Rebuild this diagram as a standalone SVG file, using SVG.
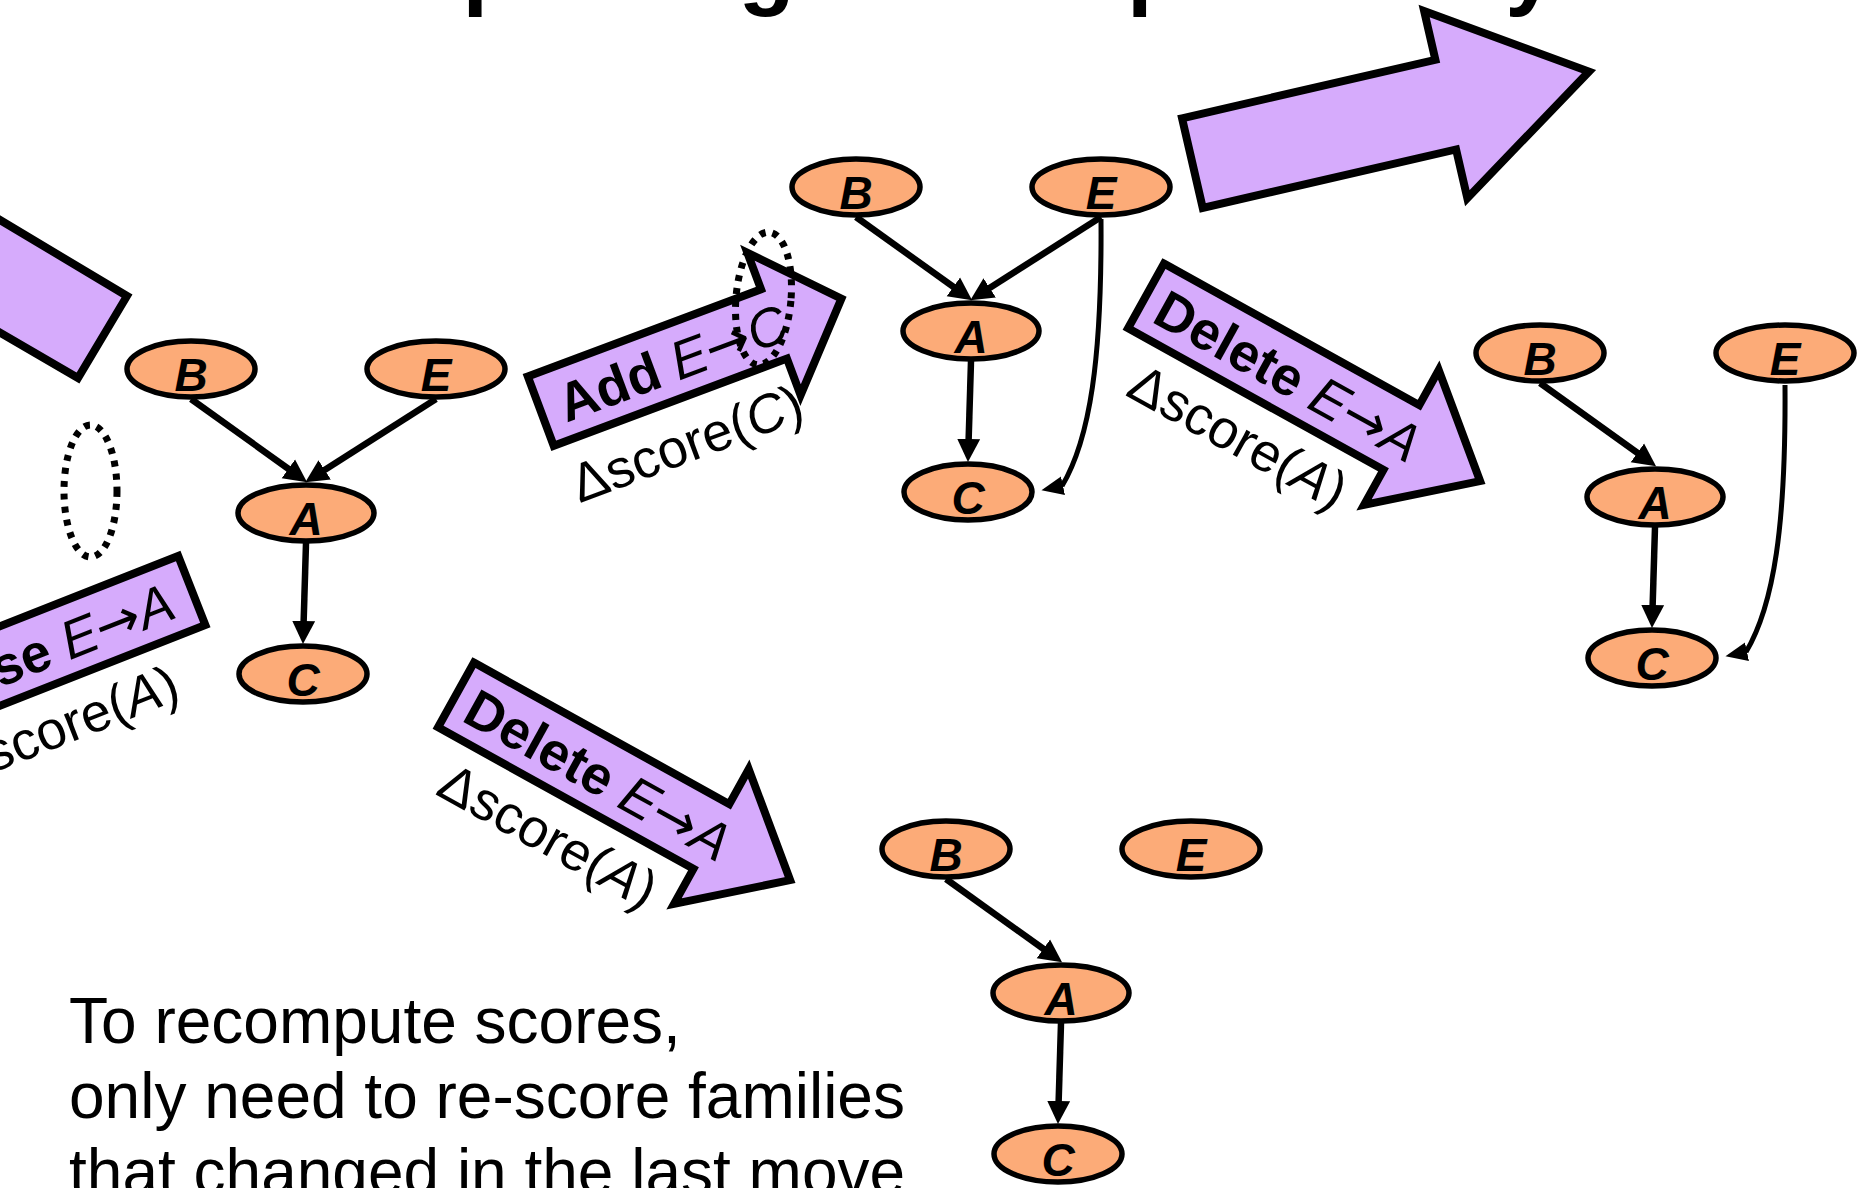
<svg xmlns="http://www.w3.org/2000/svg" width="1872" height="1188" viewBox="0 0 1872 1188">
<style>
.node ellipse { fill:#FCAB78; stroke:#000; stroke-width:5.5; }
.node text { font-family:"Liberation Sans", Arial, sans-serif; font-weight:bold; font-style:italic; font-size:46px; text-anchor:middle; fill:#000; }
.edge { stroke:#000; stroke-width:6.5; fill:none; marker-end:url(#ah); }
.curve { stroke:#000; stroke-width:5; fill:none; marker-end:url(#ahc); }
.move { fill:#D6ABFC; stroke:#000; stroke-width:8; stroke-linejoin:miter; stroke-miterlimit:10; }
.lbl { font-family:"Liberation Sans", Arial, sans-serif; font-size:54px; fill:#000; }
.b { font-weight:bold; }
.i { font-style:italic; }
.arr { font-family:"DejaVu Sans", sans-serif; font-style:normal; font-weight:normal; }
.dots { fill:none; stroke:#000; stroke-width:7; stroke-dasharray:6 7; }
.title { font-family:"Liberation Sans", Arial, sans-serif; font-weight:bold; font-size:92px; fill:#000; }
.body { font-family:"Liberation Sans", Arial, sans-serif; font-size:64px; fill:#000; }
</style>
<defs>
<marker id="ah" markerUnits="userSpaceOnUse" markerWidth="26" markerHeight="26" viewBox="0 -13 26 26" refX="2" refY="0" orient="auto"><path d="M0,-11.5 L23,0 L0,11.5 z" fill="#000"/></marker>
<marker id="ahc" markerUnits="userSpaceOnUse" markerWidth="24" markerHeight="22" viewBox="0 -11 24 22" refX="1" refY="0" orient="168"><path d="M0,-9.5 L22,0 L0,9.5 z" fill="#000"/></marker>
</defs>

<text class="title" x="350" y="-2">Exploiting Decomposability</text>

<g id="moves">
  <g id="move-topleft"><polygon class="move" points="-20,208 127,296 78,378 -20,321"/></g>
  <g id="move-reverse" transform="translate(195.5,589) rotate(-21.5)">
    <polygon class="move" points="-500,-37 -4,-37 -4,37 -500,37"/>
    <text class="lbl" text-anchor="end" x="-26" y="20"><tspan class="b">Reverse</tspan><tspan class="i"> E</tspan><tspan class="arr">→</tspan><tspan class="i">A</tspan></text>
    <text class="lbl" text-anchor="end" x="-52" y="97">Δscore(<tspan class="i">A</tspan>)</text>
  </g>
  <g id="move-add" transform="translate(537,412.5) rotate(-20.5)">
    <polygon class="move" points="4,-37 253,-37 253,-76 325,0 253,76 253,37 4,37"/>
    <text class="lbl" x="24" y="20"><tspan class="b">Add</tspan><tspan class="i"> E</tspan><tspan class="arr">→</tspan><tspan class="i">C</tspan></text>
    <text class="lbl" x="8" y="100">Δscore(<tspan class="i">C</tspan>)</text>
  </g>
  <g id="move-delete-top" transform="translate(1142.5,294) rotate(29)">
    <polygon class="move" points="4,-37 296,-37 296,-77 386,0 296,77 296,37 4,37"/>
    <text class="lbl" x="20" y="20"><tspan class="b">Delete</tspan><tspan class="i"> E</tspan><tspan class="arr">→</tspan><tspan class="i">A</tspan></text>
    <text class="lbl" x="33" y="97">Δscore(<tspan class="i">A</tspan>)</text>
  </g>
  <g id="move-delete-bottom" transform="translate(452.5,693) rotate(29)">
    <polygon class="move" points="4,-37 296,-37 296,-77 386,0 296,77 296,37 4,37"/>
    <text class="lbl" x="20" y="20"><tspan class="b">Delete</tspan><tspan class="i"> E</tspan><tspan class="arr">→</tspan><tspan class="i">A</tspan></text>
    <text class="lbl" x="33" y="97">Δscore(<tspan class="i">A</tspan>)</text>
  </g>
  <g id="move-big" transform="translate(1188.5,164) rotate(-13)">
    <polygon class="move" points="4,-46 264,-46 264,-96 411,0 264,96 264,46 4,46"/>
  </g>
</g>

<g id="connectors">
  <g transform="translate(191,369)">
    <path class="edge" d="M0,30 L99,101"/>
    <path class="edge" d="M245,30 L132,102"/>
    <path class="edge" d="M115,174 L112.6,254"/>
  </g>
  <g transform="translate(856,187)">
    <path class="edge" d="M0,30 L99,101"/>
    <path class="edge" d="M245,30 L132,102"/>
    <path class="edge" d="M115,174 L112.6,254"/>
    <path class="curve" d="M245,32 C246,172 234,252 206,299"/>
  </g>
  <g transform="translate(1540,353)">
    <path class="edge" d="M0,30 L99,101"/>
    <path class="edge" d="M115,174 L112.6,254"/>
    <path class="curve" d="M245,32 C246,172 234,252 206,299"/>
  </g>
  <g transform="translate(946,849)">
    <path class="edge" d="M0,30 L99,101"/>
    <path class="edge" d="M115,174 L112.6,254"/>
  </g>
</g>

<g id="n1B" class="node"><ellipse cx="191" cy="369" rx="64" ry="28"/><text x="191" y="391">B</text></g>
<g id="n1E" class="node"><ellipse cx="436" cy="369" rx="69" ry="28"/><text x="436" y="391">E</text></g>
<g id="n1A" class="node"><ellipse cx="306" cy="513" rx="68" ry="28"/><text x="306" y="535">A</text></g>
<g id="n1C" class="node"><ellipse cx="303" cy="674" rx="64" ry="28"/><text x="303" y="696">C</text></g>

<g id="n2B" class="node"><ellipse cx="856" cy="187" rx="64" ry="28"/><text x="856" y="209">B</text></g>
<g id="n2E" class="node"><ellipse cx="1101" cy="187" rx="69" ry="28"/><text x="1101" y="209">E</text></g>
<g id="n2A" class="node"><ellipse cx="971" cy="331" rx="68" ry="28"/><text x="971" y="353">A</text></g>
<g id="n2C" class="node"><ellipse cx="968" cy="492" rx="64" ry="28"/><text x="968" y="514">C</text></g>

<g id="n3B" class="node"><ellipse cx="1540" cy="353" rx="64" ry="28"/><text x="1540" y="375">B</text></g>
<g id="n3E" class="node"><ellipse cx="1785" cy="353" rx="69" ry="28"/><text x="1785" y="375">E</text></g>
<g id="n3A" class="node"><ellipse cx="1655" cy="497" rx="68" ry="28"/><text x="1655" y="519">A</text></g>
<g id="n3C" class="node"><ellipse cx="1652" cy="658" rx="64" ry="28"/><text x="1652" y="680">C</text></g>

<g id="n4B" class="node"><ellipse cx="946" cy="849" rx="64" ry="28"/><text x="946" y="871">B</text></g>
<g id="n4E" class="node"><ellipse cx="1191" cy="849" rx="69" ry="28"/><text x="1191" y="871">E</text></g>
<g id="n4A" class="node"><ellipse cx="1061" cy="993" rx="68" ry="28"/><text x="1061" y="1015">A</text></g>
<g id="n4C" class="node"><ellipse cx="1058" cy="1154" rx="64" ry="28"/><text x="1058" y="1176">C</text></g>

<g id="families">
  <ellipse class="dots" cx="90.5" cy="491" rx="26.5" ry="66"/>
  <ellipse class="dots" cx="763.5" cy="298.5" rx="27.5" ry="66.5" transform="rotate(5 763.5 298.5)"/>
</g>

<text class="body" x="69" y="1043">To recompute scores,</text>
<text class="body" x="69" y="1118">only need to re-score families</text>
<text class="body" x="69" y="1194">that changed in the last move</text>
</svg>
